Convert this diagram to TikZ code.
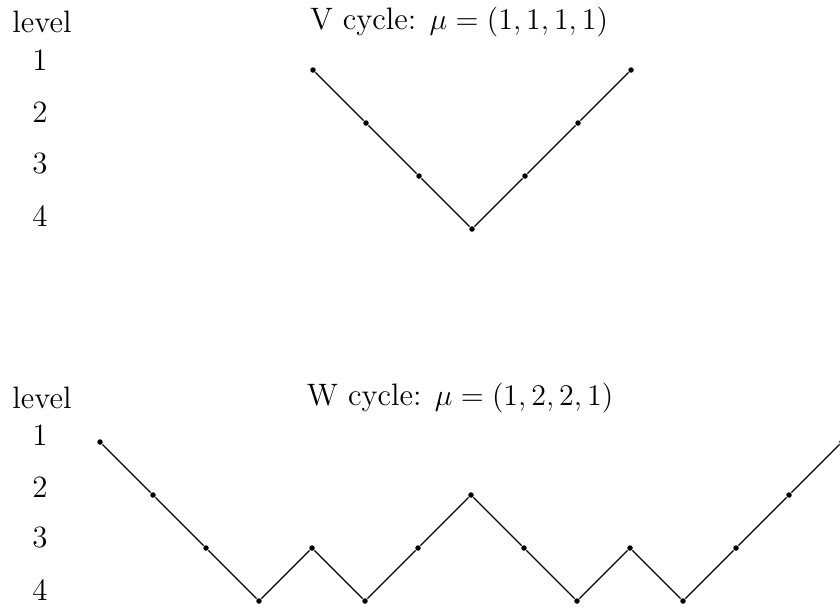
\documentclass[tikz,border=0pt]{standalone}
\usepackage{amsmath}
\usepackage{tikz}
\usetikzlibrary{positioning}

\begin{document}
\begin{tikzpicture}[
  x=0.4pt, y=-0.4pt,
  font=\fontsize{12.4}{15}\selectfont,
  line width=0.55pt,
  pt/.style={circle, fill, inner sep=0pt, minimum size=2.2pt},
  lbl/.style={inner sep=0pt},
]
\useasboundingbox (0,0) rectangle (840,609);
% V cycle
\node[lbl] (vlevel) at (42,22) {level};
\foreach \l/\y in {1/60,2/112,3/164,4/216}
  \node[lbl] (vl\l) at (40,\y) {\l};
\node[lbl] (vtitle) at (459,22) {V cycle: $\mu=(1,1,1,1)$};
\foreach \k/\l in {0/1,1/2,2/3,3/4,4/3,5/2,6/1}
  \node[pt] (v\k) at ({313+53*\k},{70+53*(\l-1)}) {};
\draw (v0) -- (v1) -- (v2) -- (v3) -- (v4) -- (v5) -- (v6);
% W cycle
\node[lbl] (wlevel) at (42,398) {level};
\foreach \l/\y in {1/435,2/487,3/538,4/590}
  \node[lbl] (wl\l) at (40,\y) {\l};
\node[lbl] (wtitle) at (460,398) {W cycle: $\mu=(1,2,2,1)$};
\foreach \k/\l in {0/1,1/2,2/3,3/4,4/3,5/4,6/3,7/2,8/3,9/4,10/3,11/4,12/3,13/2,14/1}
  \node[pt] (w\k) at ({100+53*\k},{442+53*(\l-1)}) {};
\draw (w0) -- (w1) -- (w2) -- (w3) -- (w4) -- (w5) -- (w6) -- (w7)
  -- (w8) -- (w9) -- (w10) -- (w11) -- (w12) -- (w13) -- (w14);
\end{tikzpicture}
\end{document}
